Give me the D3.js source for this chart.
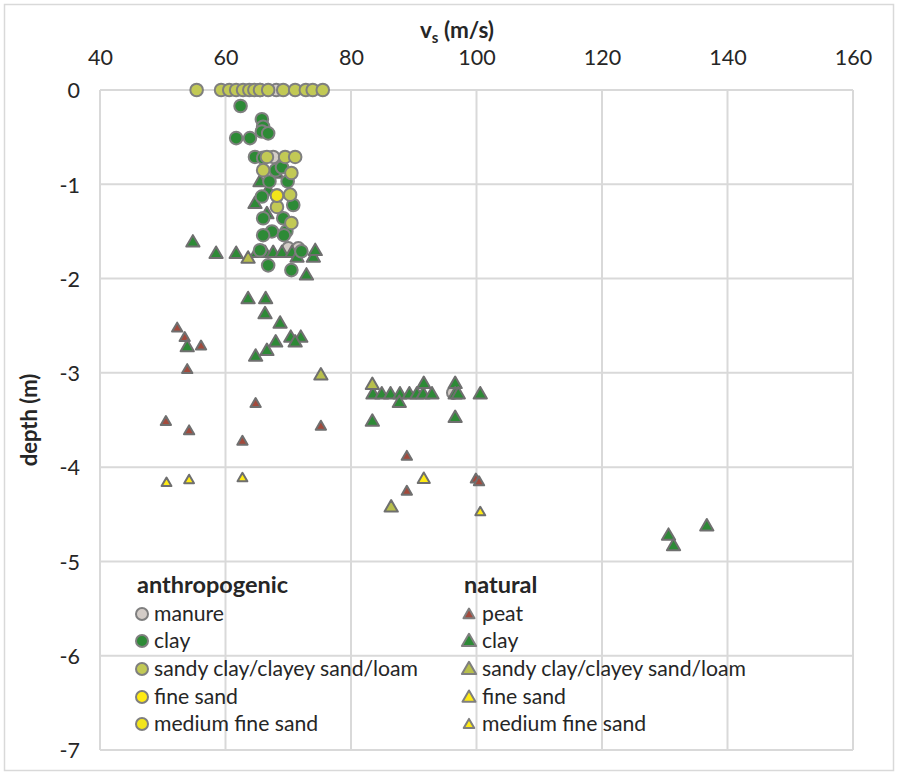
<!DOCTYPE html>
<html>
<head>
<meta charset="utf-8">
<script src="https://cdn.jsdelivr.net/npm/d3@7"></script>
<style>
  body { margin: 0; background: #fff; }
  svg text { font-family: Lato, "Open Sans", sans-serif; fill: #262626; }
</style>
</head>
<body>
<div id="chart"></div>
<script>
// axis ticks
var xTicks = [40, 60, 80, 100, 120, 140, 160]
var yTicks = [0, -1, -2, -3, -4, -5, -6, -7]

// anthropogenic series, [vs (m/s), depth (m)]
var anthManure = [[65.5, 0], [68.1, 0], [67.6, -0.71], [70.0, -1.68], [71.6, -1.68], [96.3, -3.21]]
var anthClay = [[62.4, -0.17], [65.8, -0.31], [66.0, -0.39], [65.8, -0.44], [66.8, -0.46], [61.7, -0.51], [63.9, -0.51],
	[64.7, -0.71], [66.0, -0.72], [68.0, -0.85], [69.0, -0.82], [67.0, -0.97], [69.9, -0.97],
	[65.8, -1.13], [70.8, -1.22], [66.0, -1.36], [69.2, -1.36], [67.4, -1.50], [69.7, -1.50], [66.0, -1.54], [69.3, -1.54],
	[65.5, -1.70], [72.1, -1.71], [66.8, -1.86], [70.5, -1.91]]
var anthSandy = [[55.4, 0], [59.3, 0], [60.6, 0], [61.7, 0], [62.8, 0], [63.8, 0], [64.6, 0], [65.5, 0], [66.8, 0],
	[69.2, 0], [71.1, 0], [72.8, 0], [73.9, 0], [75.5, 0],
	[66.6, -0.71], [69.5, -0.71], [71.1, -0.71], [66.0, -0.85], [70.5, -0.88],
	[70.3, -1.11], [68.2, -1.24], [70.5, -1.41]]
var anthFine = [[68.2, -1.12]]
var anthMedium = [[68.2, -1.12]]

// natural series
var natPeat = [[52.3, -2.52], [53.5, -2.62], [56.1, -2.71], [53.9, -2.96], [64.8, -3.32], [50.5, -3.51], [54.2, -3.61],
	[75.2, -3.56], [62.7, -3.72], [88.9, -3.88], [88.9, -4.25], [99.9, -4.12], [100.4, -4.15]]
var natClay = [[54.8, -1.61], [58.5, -1.73], [61.7, -1.73], [65.0, -1.72], [66.3, -1.72], [67.6, -1.72], [69.0, -1.72],
	[70.6, -1.72], [71.4, -1.77], [74.0, -1.77], [74.3, -1.70], [72.9, -1.96],
	[68.1, -0.88], [65.5, -0.97], [66.8, -1.06], [64.7, -1.20], [66.6, -1.31],
	[63.6, -2.21], [66.4, -2.21], [66.3, -2.37], [68.7, -2.47], [68.0, -2.67], [70.4, -2.62], [72.0, -2.62],
	[71.1, -2.67], [66.6, -2.76], [64.8, -2.82], [53.9, -2.72],
	[83.5, -3.22], [84.9, -3.22], [86.3, -3.22], [87.8, -3.22], [89.3, -3.22], [90.5, -3.22], [91.5, -3.22], [92.9, -3.22],
	[91.6, -3.11], [87.7, -3.31], [96.6, -3.11], [96.6, -3.22], [97.1, -3.22], [100.6, -3.22], [83.4, -3.51], [96.6, -3.47],
	[130.6, -4.72], [131.4, -4.83], [136.7, -4.62]]
var natSandy = [[63.6, -1.78], [75.2, -3.02], [83.4, -3.12], [86.4, -4.42]]
var natFine = [[91.6, -4.12]]
var natMedium = [[50.6, -4.16], [54.2, -4.13], [62.7, -4.11], [100.6, -4.47]]

var anthSeries = [
	{ name: "manure", data: anthManure, fill: "#d3ccc7" },
	{ name: "clay", data: anthClay, fill: "#2d8a36" },
	{ name: "sandy clay/clayey sand/loam", data: anthSandy, fill: "#c2c955" },
	{ name: "fine sand", data: anthFine, fill: "#ffeb14" },
	{ name: "medium fine sand", data: anthMedium, fill: "#f2e51b" }
]
var natSeries = [
	{ name: "peat", data: natPeat, fill: "#a34a3c", size: 46 },
	{ name: "clay", data: natClay, fill: "#2d8a36", size: 76 },
	{ name: "sandy clay/clayey sand/loam", data: natSandy, fill: "#b8bf4c", size: 76 },
	{ name: "fine sand", data: natFine, fill: "#ffeb14", size: 64 },
	{ name: "medium fine sand", data: natMedium, fill: "#ffeb14", size: 42 }
]

var width = 898, height = 775
var margin = {top: 90, right: 45, bottom: 25, left: 100}

var svg = d3.select("#chart").append("svg")
	.attr("width", width)
	.attr("height", height)

svg.append("rect")
	.attr("x", 4.5).attr("y", 4.5)
	.attr("width", width - 9).attr("height", height - 9)
	.attr("fill", "#fff").attr("stroke", "#d9d9d9").attr("stroke-width", 1.5)

var x = d3.scaleLinear().domain([40, 160]).range([margin.left, width - margin.right])
var y = d3.scaleLinear().domain([-7, 0]).range([height - margin.bottom, margin.top])

// gridlines
var grid = svg.append("g")
grid.selectAll(".hg").data(yTicks).enter().append("line")
	.attr("x1", x(40)).attr("x2", x(160))
	.attr("y1", function(d) { return y(d) }).attr("y2", function(d) { return y(d) })
	.attr("stroke", "#d9d9d9").attr("stroke-width", 2)
grid.selectAll(".vg").data(xTicks).enter().append("line")
	.attr("y1", y(0)).attr("y2", y(-7))
	.attr("x1", function(d) { return x(d) }).attr("x2", function(d) { return x(d) })
	.attr("stroke", "#d9d9d9").attr("stroke-width", 2)

// axes (labels only, like the excel original)
var xAxis = d3.axisTop(x).tickValues(xTicks).tickSize(0).tickPadding(0)
var yAxis = d3.axisLeft(y).tickValues(yTicks).tickSize(0).tickPadding(0).tickFormat(d3.format("d"))

var gx = svg.append("g").attr("transform", "translate(0,65)").call(xAxis)
gx.select(".domain").remove()
gx.selectAll("text").attr("font-size", 21.5).attr("dy", 0).attr("font-family", "Lato").style("fill", "#262626")

var gy = svg.append("g").attr("transform", "translate(80,0)").call(yAxis)
gy.select(".domain").remove()
gy.selectAll("text").attr("font-size", 21.5).attr("dy", "0.36em").attr("font-family", "Lato").style("fill", "#262626")
	.text(function(d) { return d < 0 ? "-" + Math.abs(d) : d })

// titles
var t = svg.append("text").attr("x", 457).attr("y", 38).attr("text-anchor", "middle")
	.attr("font-size", 22.5).attr("font-weight", "bold")
t.append("tspan").text("v")
t.append("tspan").attr("font-size", 15).attr("dy", 5).text("s")
t.append("tspan").attr("dy", -5).text(" (m/s)")

svg.append("text")
	.attr("transform", "translate(37," + y(-3.5) + ") rotate(-90)")
	.attr("text-anchor", "middle")
	.attr("font-size", 22).attr("font-weight", "bold")
	.text("depth (m)")

var tri = d3.symbol().type(d3.symbolTriangle)

function drawCircles(g, s) {
	g.append("g").selectAll("circle").data(s.data).enter().append("circle")
		.attr("cx", function(d) { return x(d[0]) })
		.attr("cy", function(d) { return y(d[1]) })
		.attr("r", 6.3)
		.attr("fill", s.fill).attr("stroke", "#7f7f7f").attr("stroke-width", 2)
}

// manure at the back, then the natural triangles, then the other anthropogenic circles
var plot = svg.append("g")
drawCircles(plot, anthSeries[0])
natSeries.forEach(function(s) {
	plot.append("g").selectAll("path").data(s.data).enter().append("path")
		.attr("d", tri.size(s.size)())
		.attr("transform", function(d) { return "translate(" + x(d[0]) + "," + (y(d[1]) + 1) + ")" })
		.attr("fill", s.fill).attr("stroke", "#6f6f6f").attr("stroke-width", 2).attr("stroke-linejoin", "round")
})
anthSeries.slice(1).forEach(function(s) { drawCircles(plot, s) })

// legend
var legend = svg.append("g")
var rowY = [614, 641, 669, 697, 724]

legend.append("text").attr("x", 137).attr("y", 585).attr("dy", "0.35em")
	.attr("font-size", 23.5).attr("font-weight", "bold").text("anthropogenic")
legend.append("text").attr("x", 464).attr("y", 585).attr("dy", "0.35em")
	.attr("font-size", 23.5).attr("font-weight", "bold").text("natural")

anthSeries.forEach(function(s, i) {
	legend.append("circle").attr("cx", 142).attr("cy", rowY[i]).attr("r", 6)
		.attr("fill", s.fill).attr("stroke", "#7f7f7f").attr("stroke-width", 2)
	legend.append("text").attr("x", 154).attr("y", rowY[i]).attr("dy", "0.35em")
		.attr("font-size", 21.2).text(s.name)
})
natSeries.forEach(function(s, i) {
	legend.append("path").attr("d", tri.size(s.size * 1.15)())
		.attr("transform", "translate(469," + (rowY[i] + 1) + ")")
		.attr("fill", s.fill).attr("stroke", "#7f7f7f").attr("stroke-width", 2).attr("stroke-linejoin", "round")
	legend.append("text").attr("x", 482).attr("y", rowY[i]).attr("dy", "0.35em")
		.attr("font-size", 21.2).text(s.name)
})
</script>
</body>
</html>
